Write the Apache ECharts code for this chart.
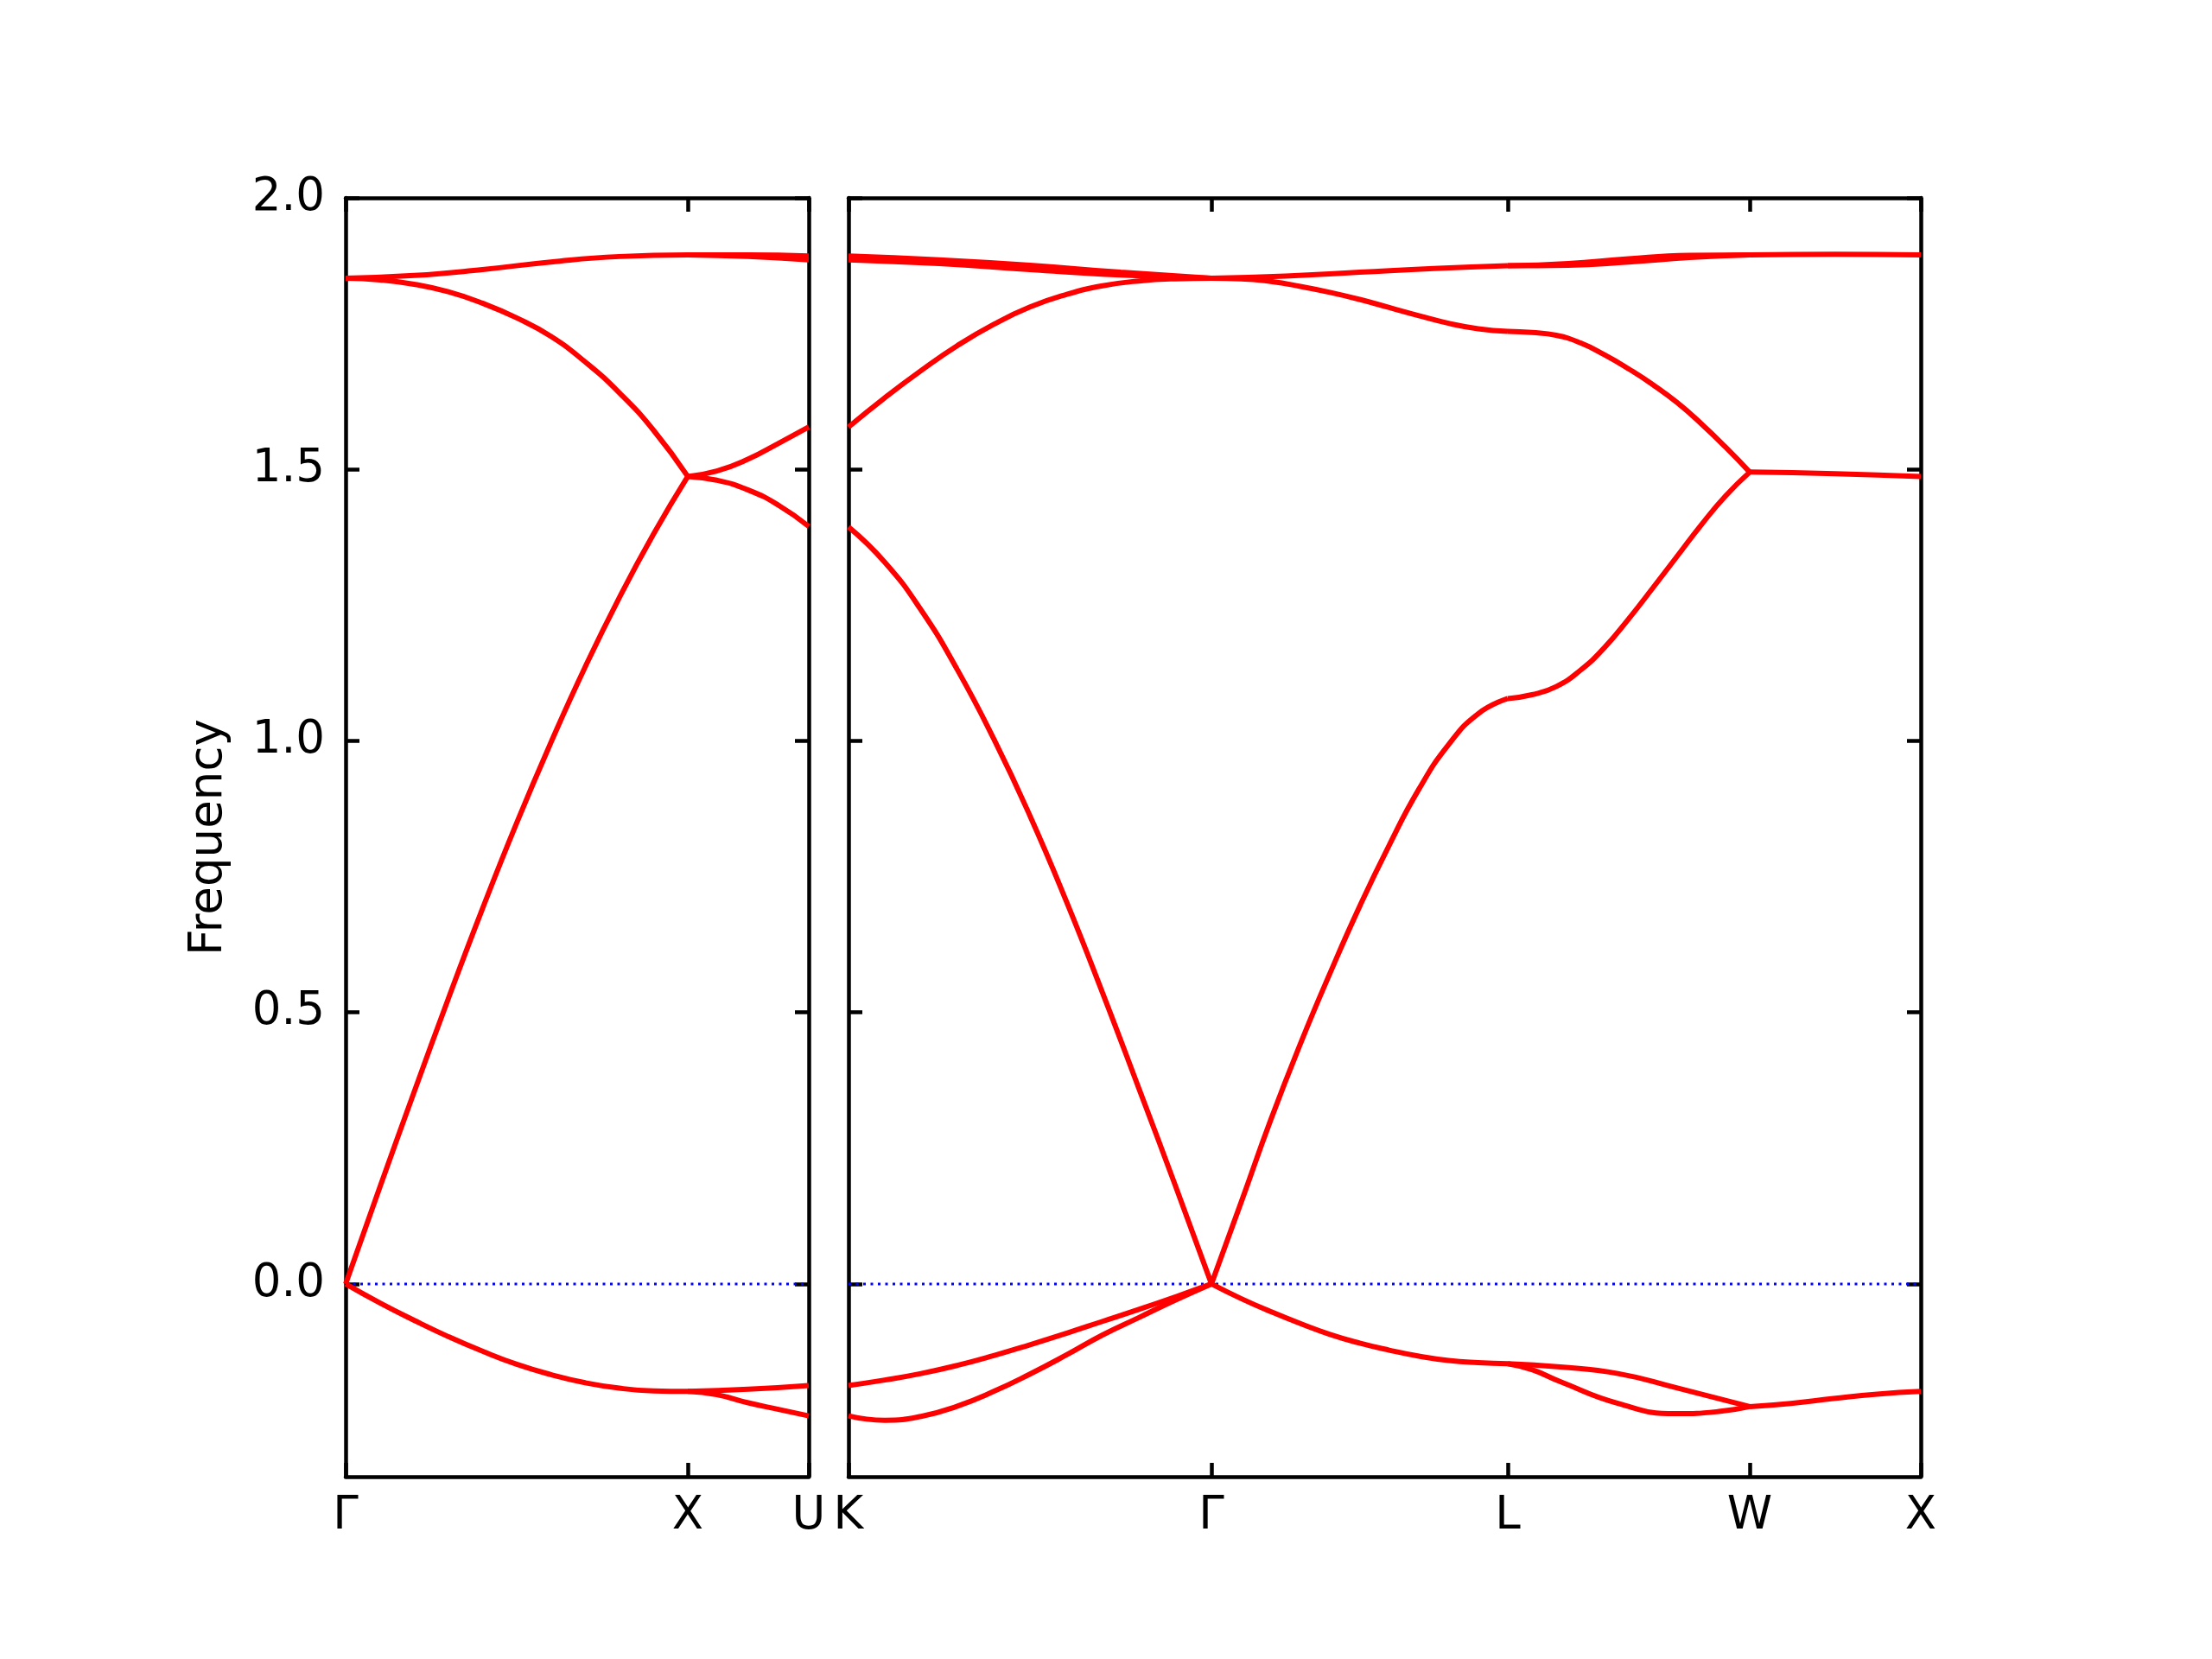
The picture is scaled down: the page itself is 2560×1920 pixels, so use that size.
<!DOCTYPE html>
<html><head><meta charset="utf-8">
<script src="https://cdn.jsdelivr.net/npm/echarts@6/dist/echarts.min.js"></script>
<style>html,body{margin:0;padding:0;background:#fff}#c{width:2560px;height:1920px}</style>
</head><body><div id="c"></div>
<script>
// ---- path definition (segment lengths in 2π/a units) ----
const leftPathLabels = ['Γ', 'X', 'U'];
const leftSegLengths = [1.0, 0.3536];
const rightPathLabels = ['K', 'Γ', 'L', 'W', 'X'];
const rightSegLengths = [1.0607, 0.8660, 0.7071, 0.5];
const yTicks = [0, 0.5, 1.0, 1.5, 2.0];
const yMin = -0.355, yMax = 2.0;

// ---- bands: [fraction along segment, frequency] ----
// Γ–X
const GX_TA = [[0,0],[0.1,-0.035],[0.2,-0.067],[0.3,-0.097],[0.4,-0.124],[0.5,-0.148],[0.6,-0.167],[0.7,-0.182],[0.8,-0.192],[0.9,-0.197],[1,-0.198]];
const GX_LA = [[0,0],[0.1,0.178],[0.2,0.353],[0.3,0.525],[0.4,0.691],[0.5,0.849],[0.6,0.997],[0.7,1.136],[0.8,1.264],[0.9,1.381],[1,1.487]];
const GX_LO = [[0,1.852],[0.1,1.849],[0.2,1.841],[0.3,1.827],[0.4,1.806],[0.5,1.779],[0.6,1.745],[0.7,1.698],[0.8,1.641],[0.9,1.572],[1,1.487]];
const GX_TO = [[0,1.852],[0.2,1.857],[0.4,1.868],[0.6,1.882],[0.8,1.892],[1,1.895]];
// X–U
const XU_TA1 = [[0,-0.198],[0.5,-0.194],[1,-0.187]];
const XU_TA2 = [[0,-0.198],[0.24,-0.204],[0.5,-0.219],[0.75,-0.231],[1,-0.243]];
const XU_LA = [[0,1.487],[0.24,1.497],[0.5,1.519],[0.75,1.548],[1,1.578]];
const XU_LO = [[0,1.487],[0.24,1.48],[0.5,1.462],[0.75,1.434],[1,1.395]];
const XU_TO1 = [[0,1.895],[0.5,1.895],[1,1.893]];
const XU_TO2 = [[0,1.895],[0.5,1.892],[1,1.886]];
// K–Γ
const KG_TA1 = [[0,-0.187],[0.1,-0.177],[0.2,-0.165],[0.3,-0.15],[0.4,-0.132],[0.5,-0.112],[0.6,-0.091],[0.7,-0.069],[0.8,-0.047],[0.9,-0.024],[1,0]];
const KG_TA2 = [[0,-0.243],[0.1,-0.251],[0.2,-0.244],[0.3,-0.225],[0.4,-0.198],[0.5,-0.166],[0.6,-0.131],[0.7,-0.094],[0.8,-0.062],[0.9,-0.03],[1,0]];
const KG_LO = [[0,1.394],[0.1,1.329],[0.2,1.241],[0.3,1.131],[0.4,1.004],[0.5,0.862],[0.6,0.705],[0.7,0.536],[0.8,0.36],[0.9,0.182],[1,0]];
const KG_LA = [[0,1.578],[0.1,1.632],[0.2,1.682],[0.3,1.728],[0.4,1.767],[0.5,1.799],[0.6,1.822],[0.7,1.838],[0.8,1.847],[0.9,1.851],[1,1.852]];
const KG_TO1 = [[0,1.893],[0.25,1.886],[0.5,1.876],[0.75,1.863],[1,1.852]];
const KG_TO2 = [[0,1.886],[0.25,1.879],[0.5,1.868],[0.75,1.858],[1,1.852]];
// Γ–L
const GL_TA = [[0,0],[0.1,-0.027],[0.2,-0.051],[0.3,-0.073],[0.4,-0.093],[0.5,-0.109],[0.6,-0.122],[0.7,-0.133],[0.8,-0.141],[0.9,-0.145],[1,-0.147]];
const GL_LA = [[0,0],[0.1,0.15],[0.2,0.302],[0.3,0.442],[0.4,0.572],[0.5,0.695],[0.6,0.808],[0.7,0.911],[0.8,0.993],[0.9,1.05],[1,1.078]];
const GL_LO = [[0,1.852],[0.1,1.851],[0.2,1.846],[0.3,1.837],[0.4,1.826],[0.5,1.813],[0.6,1.798],[0.7,1.783],[0.8,1.769],[0.9,1.759],[1,1.754]];
const GL_TO = [[0,1.852],[0.25,1.856],[0.5,1.863],[0.75,1.87],[1,1.875]];
// L–W
const LW_TA1 = [[0,-0.147],[0.217,-0.153],[0.455,-0.165],[0.694,-0.191],[1,-0.226]];
const LW_TA2 = [[0,-0.147],[0.1,-0.158],[0.217,-0.18],[0.455,-0.22],[0.694,-0.239],[0.873,-0.235],[1,-0.226]];
const LW_LA = [[0,1.078],[0.1,1.085],[0.2,1.1],[0.3,1.13],[0.4,1.172],[0.5,1.225],[0.6,1.282],[0.7,1.34],[0.8,1.398],[0.9,1.451],[1,1.495]];
const LW_LO = [[0,1.754],[0.1,1.752],[0.2,1.747],[0.3,1.733],[0.4,1.711],[0.5,1.685],[0.6,1.656],[0.7,1.623],[0.8,1.584],[0.9,1.541],[1,1.495]];
const LW_TO1 = [[0,1.875],[0.25,1.879],[0.5,1.888],[0.75,1.894],[1,1.895]];
const LW_TO2 = [[0,1.875],[0.25,1.876],[0.5,1.882],[0.75,1.89],[1,1.895]];
// W–X
const WX_TA = [[0,-0.226],[0.24,-0.22],[0.49,-0.211],[0.745,-0.203],[1,-0.198]];
const WX_L = [[0,1.495],[0.5,1.492],[1,1.487]];
const WX_TO = [[0,1.895],[0.5,1.896],[1,1.895]];

const leftSegments = [
  [GX_TA, GX_LA, GX_LO, GX_TO],
  [XU_TA1, XU_TA2, XU_LA, XU_LO, XU_TO1, XU_TO2]
];
const rightSegments = [
  [KG_TA1, KG_TA2, KG_LO, KG_LA, KG_TO1, KG_TO2],
  [GL_TA, GL_LA, GL_LO, GL_TO],
  [LW_TA1, LW_TA2, LW_LA, LW_LO, LW_TO1, LW_TO2],
  [WX_TA, WX_L, WX_TO]
];

// ---- build ----
const cum = lens => lens.reduce((a, l) => { a.push(a[a.length - 1] + l); return a; }, [0]);
const leftPos = cum(leftSegLengths);
const rightPos = cum(rightSegLengths);

const FONT = 'DejaVu Sans';
const FS = 53;
const AXW = 4.5;

function buildSeries(lens, segs, g) {
  const out = [];
  let start = 0;
  segs.forEach((bands, i) => {
    const len = lens[i];
    bands.forEach(b => {
      out.push({
        type: 'line', xAxisIndex: g * 2, yAxisIndex: g * 2,
        data: b.map(([t, v]) => [start + t * len, v]),
        smooth: 0.5, symbol: 'none', silent: true, z: 3,
        lineStyle: { color: '#ff0000', width: 6 }
      });
    });
    start += len;
  });
  const end = start;
  out.push({
    type: 'line', xAxisIndex: g * 2, yAxisIndex: g * 2,
    data: [[0, 0], [end, 0]], symbol: 'none', silent: true, z: 2,
    lineStyle: { color: '#0000ff', width: 3, type: [3, 5.5] }
  });
  return out;
}

function xAxes(pos, labels, g) {
  const common = {
    type: 'value', gridIndex: g, min: 0, max: pos[pos.length - 1],
    splitLine: { show: false },
    axisLine: { show: true, onZero: false, lineStyle: { color: '#000', width: AXW } },
    axisTick: { show: true, inside: true, length: 16, customValues: pos, lineStyle: { color: '#000', width: AXW } }
  };
  return [
    Object.assign({}, common, {
      position: 'bottom',
      axisLabel: {
        show: true, customValues: pos, margin: 20, color: '#000',
        fontFamily: FONT, fontSize: FS,
        formatter: v => { const i = pos.findIndex(p => Math.abs(p - v) < 1e-6); return i >= 0 ? labels[i] : ''; }
      }
    }),
    Object.assign({}, common, { position: 'top', axisLabel: { show: false } })
  ];
}

function yAxes(g, showLabel) {
  const common = {
    type: 'value', gridIndex: g, min: yMin, max: yMax,
    splitLine: { show: false },
    axisLine: { show: true, onZero: false, lineStyle: { color: '#000', width: AXW } },
    axisTick: { show: true, inside: true, length: 16, customValues: yTicks, lineStyle: { color: '#000', width: AXW } }
  };
  const left = Object.assign({}, common, {
    position: 'left',
    axisLabel: {
      show: showLabel, customValues: yTicks, margin: 24, color: '#000',
      fontFamily: FONT, fontSize: FS, formatter: v => v.toFixed(1)
    }
  });
  if (showLabel) {
    Object.assign(left, {
      name: 'Frequency', nameLocation: 'middle', nameGap: 131,
      nameTextStyle: { fontFamily: FONT, fontSize: FS, color: '#000' }
    });
  }
  return [left, Object.assign({}, common, { position: 'right', axisLabel: { show: false } })];
}

const option = {
  backgroundColor: '#ffffff',
  animation: false,
  grid: [
    { left: 400, top: 229, width: 536, height: 1480 },
    { left: 982, top: 229, width: 1241, height: 1480 }
  ],
  xAxis: [...xAxes(leftPos, leftPathLabels, 0), ...xAxes(rightPos, rightPathLabels, 1)],
  yAxis: [...yAxes(0, true), ...yAxes(1, false)],
  series: [...buildSeries(leftSegLengths, leftSegments, 0), ...buildSeries(rightSegLengths, rightSegments, 1)]
};

const chart = echarts.init(document.getElementById('c'), null, { renderer: 'canvas' });
chart.setOption(option);
</script>
</body></html>
